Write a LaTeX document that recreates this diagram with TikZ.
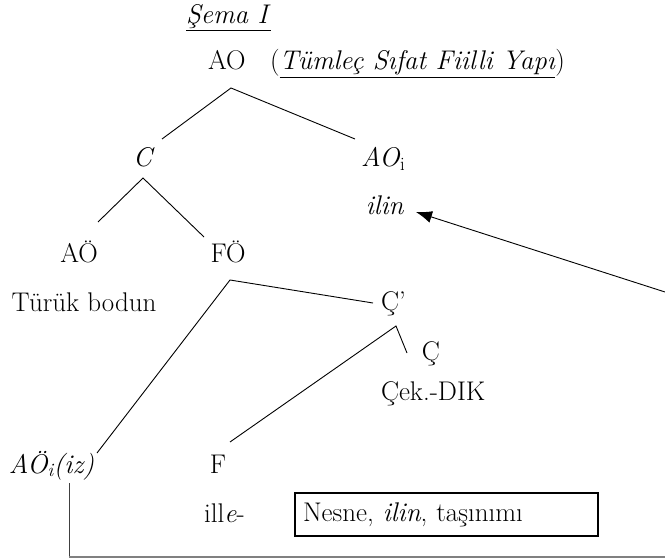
\documentclass[tikz,border=0pt]{standalone}
\usepackage{fontspec}
\usetikzlibrary{arrows.meta}
\begin{document}
\begin{tikzpicture}[x=1pt,y=-1pt,
  every node/.style={font=\fontsize{27}{32}\selectfont, inner sep=0pt, outer sep=0pt},
  lbl/.style={anchor=base},
  lblw/.style={anchor=base west},
  branch/.style={draw=black, line width=0.9pt},
  movearrow/.style={draw=black, line width=0.9pt, -{Latex[length=16pt,width=12pt]}},
  tracev/.style={draw=black!75, line width=1pt},
  traceh/.style={draw=black!50, line width=2.5pt},
  notebox/.style={draw=black, line width=2pt, minimum height=43pt, text width=287pt, inner xsep=8pt, align=left, anchor=west}
]
\useasboundingbox (0,0) rectangle (665,559);

% texts
\node[lblw] (sema) at (186,24) {\underline{\textit{Şema I}}};
\node[lblw] (AO) at (208,70) {AO};
\node[lblw] (paren) at (270,70) {(\underline{\textit{Tümleç Sıfat Fiilli Yapı}})};
\node[lbl] (C) at (144,167) {\textit{C}};
\node[lblw] (AOi) at (361,167) {\textit{AO}\textsubscript{i}};
\node[lbl] (ilin) at (385,215) {\textit{ilin}};
\node[lbl] (AOe) at (79,263) {AÖ};
\node[lbl] (FOe) at (228,263) {FÖ};
\node[lbl] (turuk) at (84,312) {Türük bodun};
\node[lblw] (Cbar) at (381,310) {Ç’};
\node[lbl] (Ch) at (431,360) {Ç};
\node[lblw] (cekdik) at (381,400) {Çek.-DIK};
\node[lblw] (AOeiz) at (9,473) {\textit{AÖ\textsubscript{i}(iz)}};
\node[lbl] (F) at (218,473) {F};
\node[lblw] (ille) at (204,522) {ill\textit{e}-};
\node[notebox] (box) at (295,514.5) {Nesne, \textit{ilin}, taşınımı};

% branch points
\coordinate (AOapex) at (231,88);
\coordinate (Ctop) at (162,139);
\coordinate (AOitop) at (355,139);
\coordinate (Capex) at (143,178);
\coordinate (AOetop) at (98,222);
\coordinate (FOetop) at (204,237);
\coordinate (FOeapex) at (230,280);
\coordinate (Cbarend) at (373,303);
\coordinate (AOeiztop) at (97,453);
\coordinate (Cbarapex) at (396,326);
\coordinate (Chtop) at (407,353);
\coordinate (Ftop) at (230,442);
\coordinate (arrowstart) at (665,292);
\coordinate (ilintip) at (416,212);
\coordinate (traceA) at (69,483);
\coordinate (traceB) at (69,557);
\coordinate (traceC) at (665,557);

% tree
\draw[branch] (Ctop) -- (AOapex) -- (AOitop);
\draw[branch] (AOetop) -- (Capex) -- (FOetop);
\draw[branch] (AOeiztop) -- (FOeapex) -- (Cbarend);
\draw[branch] (Ftop) -- (Cbarapex) -- (Chtop);

% movement
\draw[movearrow] (arrowstart) -- (ilintip);
\draw[tracev] (traceA) -- (traceB);
\draw[traceh] (traceB) -- (traceC);
\end{tikzpicture}
\end{document}
